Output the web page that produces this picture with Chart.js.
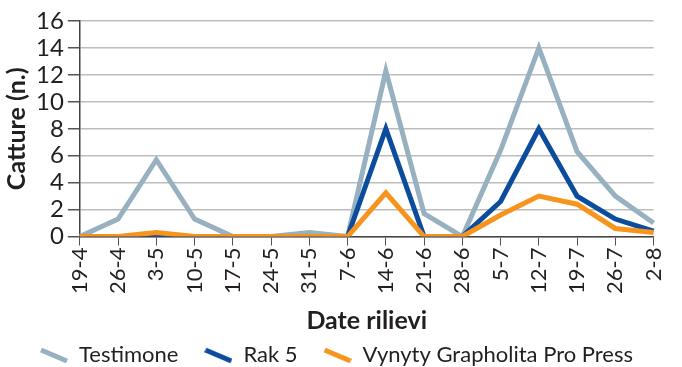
<!DOCTYPE html>
<html>
<head>
<meta charset="utf-8">
<script src="https://cdn.jsdelivr.net/npm/chart.js@4"></script>
<style>
  html, body { margin: 0; padding: 0; background: #fff; }
  #wrap { width: 682px; height: 367px; }
</style>
</head>
<body>
<div id="wrap"><canvas id="myChart"></canvas></div>
<script>
const dates = ['19-4', '26-4', '3-5', '10-5', '17-5', '24-5', '31-5', '7-6', '14-6', '21-6', '28-6', '5-7', '12-7', '19-7', '26-7', '2-8'];
const testimone = [0, 1.3, 5.7, 1.3, 0, 0, 0.3, 0, 12.3, 1.7, 0, 6.4, 14, 6.3, 3, 1];
const rak5 = [0, 0, 0, 0, 0, 0, 0, 0, 8, 0, 0, 2.6, 8, 3, 1.3, 0.4];
const vynyty = [0, 0, 0.3, 0, 0, 0, 0, 0, 3.25, 0, 0, 1.6, 3, 2.4, 0.6, 0.3];
const yTicks = [0, 2, 4, 6, 8, 10, 12, 14, 16];

const fontName = "Lato, 'Open Sans', sans-serif";

function legendIcon(color) {
    const c = document.createElement('canvas');
    c.width = 28;
    c.height = 16;
    const g = c.getContext('2d');
    g.strokeStyle = color;
    g.lineWidth = 5;
    g.beginPath();
    g.moveTo(1, 3);
    g.lineTo(27, 14);
    g.stroke();
    return c;
}

// legend padding gives the gap between items, but leaves too much height
const legendShrink = {
    id: 'legendShrink',
    beforeUpdate(chart) {
        const lg = chart.legend;
        if (lg && !lg._shrunk) {
            const fit = lg.fit;
            lg.fit = function () {
                fit.call(this);
                this.height -= 9;
            };
            lg._shrunk = true;
        }
    }
};

const ctx = document.getElementById('myChart').getContext('2d');
const myChart = new Chart(ctx, {
    type: 'line',
    data: {
        labels: dates,
        datasets: [
            {
                label: 'Testimone',
                data: testimone,
                borderColor: '#97b1c0',
                borderWidth: 5,
                pointRadius: 0,
                pointStyle: legendIcon('#97b1c0'),
                order: 3
            },
            {
                label: 'Rak 5',
                data: rak5,
                borderColor: '#0b4c9c',
                borderWidth: 5,
                pointRadius: 0,
                pointStyle: legendIcon('#0b4c9c'),
                order: 2
            },
            {
                label: 'Vynyty Grapholita Pro Press',
                data: vynyty,
                borderColor: '#f7941d',
                borderWidth: 5,
                pointRadius: 0,
                pointStyle: legendIcon('#f7941d'),
                order: 1
            }
        ]
    },
    plugins: [legendShrink],
    options: {
        responsive: true,
        maintainAspectRatio: false,
        animation: false,
        layout: { padding: { left: 2, right: 11, top: 21, bottom: 0 } },
        plugins: {
            tooltip: { enabled: false },
            legend: {
                position: 'bottom',
                labels: {
                    usePointStyle: true,
                    pointStyleWidth: 28,
                    color: '#231f20',
                    font: { family: fontName, size: 22 },
                    padding: 26,
                    sort: (a, b) => a.datasetIndex - b.datasetIndex
                }
            }
        },
        scales: {
            x: {
                grid: {
                    drawOnChartArea: false,
                    drawTicks: true,
                    tickLength: 9,
                    tickColor: '#555'
                },
                border: { color: '#444', width: 1.5 },
                ticks: {
                    color: '#231f20',
                    font: { family: fontName, size: 22 },
                    maxRotation: 90,
                    minRotation: 90,
                    autoSkip: false,
                    padding: 2
                },
                title: {
                    display: true,
                    text: 'Date rilievi',
                    color: '#231f20',
                    font: { family: fontName, size: 25, weight: 'bold' },
                    padding: { top: 10, bottom: -18 }
                }
            },
            y: {
                min: 0,
                max: 16,
                afterBuildTicks: axis => { axis.ticks = yTicks.map(v => ({ value: v })); },
                grid: {
                    color: '#bdbdbd',
                    lineWidth: 1.5,
                    tickLength: 12,
                    tickColor: '#555'
                },
                border: { color: '#444', width: 1.5 },
                ticks: {
                    color: '#231f20',
                    font: { family: fontName, size: 24 },
                    padding: 4,
                    autoSkip: false
                },
                title: {
                    display: true,
                    text: 'Catture (n.)',
                    color: '#231f20',
                    font: { family: fontName, size: 25, weight: 'bold' },
                    padding: { top: 0, bottom: 0 }
                }
            }
        }
    }
});
</script>
</body>
</html>
